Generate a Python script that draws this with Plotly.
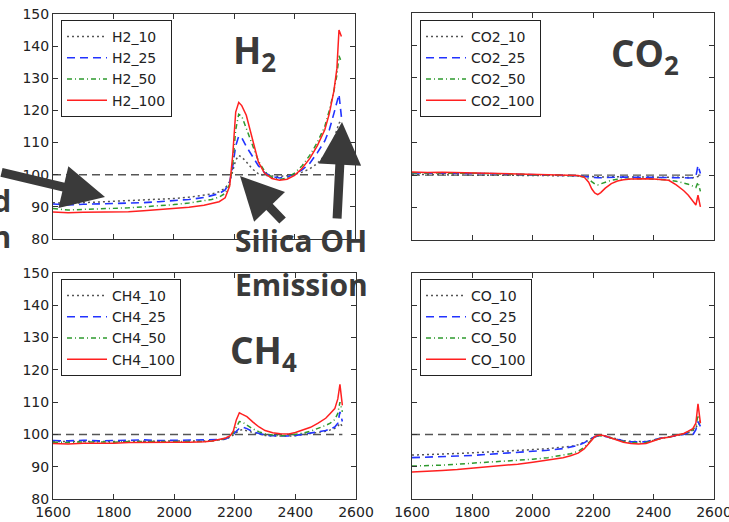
import plotly.graph_objects as go

# Wavenumber grid (cm^-1) shared by all spectra
wavenumber = [1600, 1650, 1700, 1750, 1800, 1850, 1900, 1950, 2000, 2050, 2100,
              2125, 2150, 2170, 2185, 2195, 2205, 2215, 2225, 2240, 2260,
              2280, 2300, 2325, 2350, 2375, 2400, 2425, 2450, 2475, 2500,
              2515, 2530, 2540, 2547, 2555]

# Relative signal (%) for each gas at 10 / 25 / 50 / 100 concentration
h2_10 = [91.3, 91.1, 91.3, 91.5, 91.6, 91.8, 92.0, 92.3, 92.6, 93.0, 93.6,
         94.0, 94.7, 95.8, 97.8, 101.0, 104.5, 106.0, 105.5, 104.0, 101.8,
         100.3, 99.8, 99.6, 99.5, 99.7, 100.1, 100.8, 101.8, 103.5, 106.0,
         108.5, 111.0, 114.0, 116.0, 117.0]
h2_25 = [90.9, 90.6, 90.8, 90.9, 91.0, 91.1, 91.3, 91.6, 91.9, 92.3, 92.9,
         93.4, 94.1, 95.3, 97.8, 102.5, 109.0, 112.0, 111.5, 108.8, 105.8,
         102.8, 100.7, 99.4, 99.0, 99.3, 100.2, 101.5, 103.5, 106.8, 110.5,
         114.0, 119.0, 123.0, 125.0, 118.0]
h2_50 = [89.5, 89.0, 89.2, 89.3, 89.5, 89.7, 90.0, 90.3, 90.7, 91.2, 91.8,
         92.3, 93.0, 94.2, 97.0, 103.0, 114.0, 118.8, 118.2, 114.5, 109.5,
         104.3, 101.2, 99.2, 98.5, 99.0, 100.5, 102.8, 106.0, 110.0, 115.0,
         120.0, 126.0, 131.0, 137.0, 135.0]
h2_100 = [88.4, 88.2, 88.3, 88.4, 88.3, 88.5, 88.8, 89.1, 89.4, 89.9, 90.5,
          91.0, 91.6, 92.8, 96.5, 106.0, 119.5, 122.5, 121.5, 118.5, 111.0,
          104.0, 100.5, 98.8, 98.3, 98.6, 99.8, 102.0, 105.0, 109.0, 114.0,
          119.0, 126.0, 133.0, 145.0, 143.0]

co2_10 = [100.2, 100.1, 100.1, 100.1, 100.0, 100.0, 100.0, 100.0, 99.9, 99.9, 99.8,
          99.8, 99.7, 99.6, 99.5, 99.4, 99.4, 99.4, 99.4, 99.4, 99.5,
          99.5, 99.5, 99.5, 99.5, 99.5, 99.5, 99.5, 99.4, 99.4, 99.3,
          99.3, 99.2, 99.3, 99.6, 100.0]
co2_25 = [100.7, 100.6, 100.6, 100.6, 100.5, 100.5, 100.4, 100.3, 100.2, 100.1, 100.0,
          99.9, 99.8, 99.6, 99.4, 99.3, 99.3, 99.2, 99.2, 99.3, 99.3,
          99.4, 99.4, 99.4, 99.4, 99.3, 99.3, 99.3, 99.2, 99.2, 99.2,
          99.1, 99.2, 99.6, 103.0, 100.5]
co2_50 = [100.7, 100.6, 100.7, 100.6, 100.6, 100.5, 100.5, 100.4, 100.3, 100.2, 100.1,
          100.0, 99.8, 99.4, 98.8, 98.0, 97.3, 97.0, 97.3, 97.9, 98.4,
          98.7, 98.8, 98.9, 98.9, 98.9, 98.8, 98.7, 98.5, 98.1, 97.6,
          97.2, 96.6, 96.2, 97.8, 95.0]
co2_100 = [101.0, 100.8, 100.9, 100.8, 100.8, 100.7, 100.6, 100.5, 100.4, 100.3, 100.2,
           100.1, 99.9, 99.4, 97.8, 95.8, 94.5, 94.0, 94.6, 96.0, 97.4,
           98.2, 98.6, 98.8, 98.9, 98.9, 98.8, 98.6, 98.4, 97.0, 95.2,
           93.8, 91.8, 90.8, 93.8, 90.2]

ch4_10 = [97.8, 97.7, 97.8, 97.8, 97.8, 97.9, 97.9, 97.8, 97.9, 97.9, 98.0,
          98.1, 98.3, 98.5, 99.2, 99.8, 100.6, 101.2, 101.5, 101.2, 100.6,
          100.1, 99.7, 99.5, 99.4, 99.5, 99.6, 99.9, 100.2, 100.6, 101.0,
          101.4, 101.9, 102.5, 103.5, 102.5]
ch4_25 = [98.1, 98.0, 98.2, 98.0, 98.1, 98.2, 98.3, 98.1, 98.2, 98.1, 98.2,
          98.3, 98.4, 98.6, 99.3, 100.0, 101.0, 101.9, 102.3, 101.8, 100.8,
          100.2, 99.8, 99.6, 99.5, 99.5, 99.7, 100.0, 100.3, 100.8, 101.2,
          101.8, 102.3, 103.5, 107.0, 104.0]
ch4_50 = [97.6, 97.5, 97.7, 97.6, 97.6, 97.8, 97.8, 97.7, 97.8, 97.7, 97.8,
          98.0, 98.3, 98.8, 99.4, 100.5, 102.5, 104.0, 103.8, 102.8, 101.7,
          100.8, 100.2, 99.8, 99.6, 99.7, 100.0, 100.4, 101.0, 101.8, 102.8,
          103.5, 104.6, 106.5, 110.0, 107.0]
ch4_100 = [97.2, 97.0, 97.3, 97.2, 97.3, 97.5, 97.6, 97.5, 97.6, 97.6, 97.7,
           98.0, 98.4, 98.9, 99.6, 101.0, 104.5, 106.7, 106.2, 105.5, 103.8,
           102.3, 101.2, 100.5, 100.2, 100.1, 100.6, 101.5, 102.2, 103.5, 105.0,
           106.5, 108.0, 111.0, 115.5, 109.0]

co_10 = [93.6, 93.7, 93.9, 94.1, 94.3, 94.5, 94.8, 95.0, 95.3, 95.6, 96.0,
         96.3, 96.8, 97.5, 98.2, 98.8, 99.3, 99.6, 99.7, 99.5, 99.0,
         98.5, 98.1, 97.8, 97.7, 97.8, 98.3, 98.9, 99.2, 99.6, 100.1,
         100.6, 101.2, 102.0, 103.5, 103.0]
co_25 = [92.8, 92.9, 93.1, 93.3, 93.5, 93.8, 94.1, 94.4, 94.7, 95.1, 95.6,
         96.0, 96.6, 97.4, 98.1, 98.8, 99.3, 99.6, 99.7, 99.4, 98.9,
         98.4, 98.0, 97.7, 97.6, 97.7, 98.3, 98.9, 99.2, 99.6, 100.0,
         100.5, 99.9, 101.5, 104.0, 102.5]
co_50 = [90.2, 90.3, 90.5, 90.8, 91.1, 91.3, 91.6, 91.9, 92.3, 92.8, 93.5,
         94.0, 94.8, 96.0, 97.4, 98.5, 99.3, 99.6, 99.7, 99.4, 98.8,
         98.2, 97.8, 97.5, 97.3, 97.5, 98.2, 98.8, 99.2, 99.6, 100.2,
         100.8, 101.5, 102.5, 106.0, 103.5]
co_100 = [88.4, 88.5, 88.8, 89.1, 89.5, 89.9, 90.3, 90.8, 91.4, 92.0, 92.8,
          93.4, 94.2, 95.5, 97.0, 98.3, 99.3, 99.7, 99.8, 99.5, 98.8,
          98.1, 97.6, 97.2, 97.0, 97.2, 98.0, 98.8, 99.1, 99.6, 100.3,
          101.0, 101.8, 103.5, 109.5, 103.5]

concentrations = ["10", "25", "50", "100"]
reference_level = 100
x_ticks = [1600, 1800, 2000, 2200, 2400, 2600]
y_ticks = [80, 90, 100, 110, 120, 130, 140, 150]

W, H = 729, 522


def px(x):
    return x / W


def py(y):
    return 1 - y / H


panels = [
    dict(gas="H2", data=[h2_10, h2_25, h2_50, h2_100], ax="", legend="legend",
         xdom=(53, 355), ydom=(14, 239)),
    dict(gas="CO2", data=[co2_10, co2_25, co2_50, co2_100], ax="2", legend="legend2",
         xdom=(412, 714), ydom=(13, 240)),
    dict(gas="CH4", data=[ch4_10, ch4_25, ch4_50, ch4_100], ax="3", legend="legend3",
         xdom=(53, 356), ydom=(273, 499)),
    dict(gas="CO", data=[co_10, co_25, co_50, co_100], ax="4", legend="legend4",
         xdom=(412, 714), ydom=(273, 499)),
]

styles = {
    "10": dict(color="#555555", dash="2px,3px", width=1.5),
    "25": dict(color="#2233ff", dash="8px,5px", width=1.6),
    "50": dict(color="#2e9a2e", dash="5px,3px,1px,3px", width=1.5),
    "100": dict(color="#ff2020", dash="solid", width=1.5),
}

fig = go.Figure()
layout = {}
tick_font = dict(family="DejaVu Sans", size=14, color="#222222")
axis_common = dict(showline=True, linecolor="#333333", linewidth=1, mirror="ticks",
                   ticks="inside", ticklen=5, tickcolor="#333333", showgrid=False,
                   zeroline=False, tickfont=tick_font, automargin=False,
                   ticklabeloverflow="allow")

for i, p in enumerate(panels):
    xa, ya = "x" + p["ax"], "y" + p["ax"]
    # dashed reference line at 100 %
    fig.add_trace(go.Scatter(x=[wavenumber[0], wavenumber[-1]],
                             y=[reference_level, reference_level],
                             mode="lines", xaxis=xa, yaxis=ya, showlegend=False,
                             hoverinfo="skip",
                             line=dict(color="#555555", dash="8px,5px", width=1.4)))
    for conc, vals in zip(concentrations, p["data"]):
        fig.add_trace(go.Scatter(x=wavenumber, y=vals, mode="lines",
                                 name=f"{p['gas']}_{conc}", xaxis=xa, yaxis=ya,
                                 legend=p["legend"], line=styles[conc]))
    bottom_row = i >= 2
    left_col = i % 2 == 0
    layout["xaxis" + p["ax"]] = dict(
        axis_common, domain=[px(p["xdom"][0]), px(p["xdom"][1])],
        range=[1600, 2600], tickvals=x_ticks, showticklabels=bottom_row,
        anchor=ya)
    layout["yaxis" + p["ax"]] = dict(
        axis_common, domain=[py(p["ydom"][1]), py(p["ydom"][0])],
        range=[80, 150], tickvals=y_ticks, showticklabels=left_col,
        anchor=xa)
    legend_pos = (61 if left_col else 420, 20 if not bottom_row else 279)
    layout[p["legend"]] = dict(
        x=px(legend_pos[0]), y=py(legend_pos[1]), xanchor="left", yanchor="top",
        bgcolor="white", bordercolor="#222222", borderwidth=1,
        font=dict(family="DejaVu Sans", size=14, color="#222222"),
        itemwidth=40, tracegroupgap=0)

label_font = dict(family="Open Sans", size=37, color="#3a3a3a", weight=700)
note_font = dict(family="Open Sans", size=30, color="#3a3a3a", weight=700)
arrow_color = "#3a3a3a"

annotations = [
    dict(text="H<sub>2</sub>", x=px(254), y=py(52), font=label_font),
    dict(text="CO<sub>2</sub>", x=px(645), y=py(55), font=label_font),
    dict(text="CH<sub>4</sub>", x=px(263), y=py(352), font=label_font),
    dict(text="Silica OH", x=px(301), y=py(240), font=note_font),
    dict(text="Emission", x=px(301), y=py(284), font=note_font),
    dict(text="Broadband", x=px(13), y=py(201), xanchor="right", font=note_font),
    dict(text="Absorption", x=px(13), y=py(236), xanchor="right", font=note_font),
]
for a in annotations:
    a.setdefault("xanchor", "center")
    a.update(xref="paper", yref="paper", yanchor="middle", showarrow=False)

arrows = [
    dict(x=px(105), y=py(197), ax=-130, ay=-25),
    dict(x=px(240), y=py(176), ax=44, ay=46),
    dict(x=px(342), y=py(122), ax=-5, ay=98),
]
for a in arrows:
    a.update(xref="paper", yref="paper", text="", showarrow=True, arrowhead=2,
             arrowwidth=9, arrowsize=0.95, arrowcolor=arrow_color, standoff=0)
    annotations.append(a)

fig.update_layout(
    width=W, height=H, margin=dict(l=0, r=0, t=0, b=0, autoexpand=False),
    paper_bgcolor="white", plot_bgcolor="white",
    annotations=annotations, **layout)

fig.write_html("out.html")
